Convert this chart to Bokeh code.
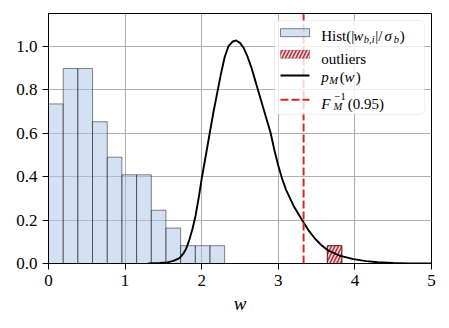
from bokeh.plotting import figure
from bokeh.models import (Range1d, FixedTicker, Span, BoxAnnotation, Label, Arrow)
from bokeh.embed import file_html
from bokeh.resources import INLINE

# ---------------- data ----------------
hist_edges = [0.0, 0.192, 0.383, 0.575, 0.767, 0.958, 1.150, 1.342,
              1.533, 1.725, 1.917, 2.108, 2.300]
hist_heights = [0.734, 0.897, 0.897, 0.652, 0.489, 0.408, 0.408,
                0.245, 0.163, 0.082, 0.082, 0.082]
outlier_left = [3.64]
outlier_right = [3.83]
outlier_heights = [0.082]

pdf_w = [1.30, 1.45, 1.55, 1.63, 1.71, 1.76, 1.80, 1.84, 1.88, 1.92, 1.96,
         2.00, 2.05, 2.10, 2.15, 2.20, 2.25, 2.30, 2.35, 2.40, 2.45, 2.50,
         2.55, 2.60, 2.65, 2.70, 2.75, 2.80, 2.85, 2.90, 2.95, 3.00, 3.05,
         3.10, 3.20, 3.31, 3.40, 3.48, 3.56, 3.65, 3.80, 3.98, 4.15, 4.30,
         4.50, 4.70, 5.00]
pdf_p = [0.000, 0.002, 0.005, 0.012, 0.025, 0.045, 0.070, 0.110, 0.160,
         0.220, 0.300, 0.390, 0.490, 0.590, 0.690, 0.780, 0.870, 0.950,
         1.000, 1.020, 1.026, 1.015, 0.990, 0.950, 0.900, 0.840, 0.780,
         0.720, 0.660, 0.600, 0.520, 0.450, 0.390, 0.340, 0.265, 0.200,
         0.150, 0.114, 0.085, 0.060, 0.036, 0.020, 0.011, 0.006, 0.002,
         0.000, 0.000]
quantile_95 = 3.33

x_ticks = [0, 1, 2, 3, 4, 5]
x_tick_labels = ["0", "1", "2", "3", "4", "5"]
y_ticks = [0.0, 0.2, 0.4, 0.6, 0.8, 1.0]
y_tick_labels = ["0.0", "0.2", "0.4", "0.6", "0.8", "1.0"]

# ---------------- styles ----------------
SERIF = "Liberation Serif"
BAR_FILL = "#a9c4e6"
RED = "#d62728"

p = figure(width=449, height=328, x_range=Range1d(0, 5), y_range=Range1d(0, 1.15),
           output_backend="svg", toolbar_location=None,
           min_border_left=48, min_border_right=18, min_border_top=13,
           min_border_bottom=65)
p.background_fill_color = "white"
p.border_fill_color = "white"
p.outline_line_color = "black"
p.outline_line_width = 1
p.outline_line_alpha = 1

for ax, ticks, labels in ((p.xaxis, x_ticks, x_tick_labels), (p.yaxis, y_ticks, y_tick_labels)):
    ax.ticker = FixedTicker(ticks=ticks)
    ax.major_label_overrides = {t: l for t, l in zip(ticks, labels)}
    ax.major_tick_out = 6
    ax.major_tick_in = 0
    ax.minor_tick_out = 0
    ax.minor_tick_in = 0
    ax.axis_line_color = "black"
    ax.major_tick_line_color = "black"
    ax.major_label_text_font = SERIF
    ax.major_label_text_font_size = "17px"
    ax.major_label_text_color = "black"
    ax.major_label_standoff = 5

p.xaxis.axis_label = "w"
p.xaxis.axis_label_text_font = SERIF
p.xaxis.axis_label_text_font_style = "italic"
p.xaxis.axis_label_text_font_size = "19px"
p.xaxis.axis_label_text_color = "black"
p.xaxis.axis_label_standoff = 4

p.grid.grid_line_color = "#b0b0b0"
p.grid.grid_line_width = 1.1

# histogram
p.quad(left=hist_edges[:-1], right=hist_edges[1:], bottom=0, top=hist_heights,
       fill_color=BAR_FILL, fill_alpha=0.5, line_color="#222222", line_alpha=0.55,
       line_width=1)
# outliers
p.quad(left=outlier_left, right=outlier_right, bottom=0, top=outlier_heights,
       fill_color=BAR_FILL, fill_alpha=0.5, hatch_pattern="/", hatch_color=RED,
       hatch_scale=7, hatch_weight=1.6, line_color="#4a1414", line_width=1)
# density
p.line(pdf_w, pdf_p, line_color="black", line_width=1.9)
# quantile
p.add_layout(Span(location=quantile_95, dimension="height", line_color=RED,
                  line_width=2, line_dash="8 3"))

# ---------------- legend (drawn by hand for sub/superscripts) ----------------
X0, XS, Y0, YS = 48.0, 76.6, 263.0, 217.39


def dx(px):
    return (px - X0) / XS


def dy(py):
    return (Y0 - py) / YS


p.add_layout(BoxAnnotation(left=dx(274), right=dx(424), top=dy(20), bottom=dy(114),
                           fill_color="white", fill_alpha=0.8, line_color="#cccccc",
                           line_width=1, border_radius=4))
p.add_layout(BoxAnnotation(left=dx(280), right=dx(309), top=dy(28.2), bottom=dy(36.2),
                           fill_color=BAR_FILL, fill_alpha=0.5, line_color="#222222",
                           line_alpha=0.55, line_width=1))
p.add_layout(BoxAnnotation(left=dx(280), right=dx(309), top=dy(49.8), bottom=dy(57.8),
                           fill_color=BAR_FILL, fill_alpha=0.5, hatch_pattern="/",
                           hatch_color=RED, hatch_scale=7, hatch_weight=1.6,
                           line_color="#4a1414", line_width=1))
p.add_layout(Arrow(end=None, x_start=dx(280), x_end=dx(309), y_start=dy(75), y_end=dy(75),
                   line_color="black", line_width=1.9))
p.add_layout(Arrow(end=None, x_start=dx(280), x_end=dx(309), y_start=dy(99.3), y_end=dy(99.3),
                   line_color=RED, line_width=2, line_dash="8 3"))

# (text, px_x, px_baseline, size, style)
legend_pieces = [
    ("Hist(|", 320.7, 36.0, "15px", "normal"),
    ("w", 352.7, 36.0, "15px", "italic"),
    ("b,i", 363.3, 39.3, "10.5px", "italic"),
    ("|/", 374.8, 36.0, "15px", "normal"),
    ("σ", 384.0, 36.0, "15px", "italic"),
    ("b", 393.3, 39.3, "10.5px", "italic"),
    (")", 399.3, 36.0, "15px", "normal"),
    ("outliers", 320.7, 58.5, "15px", "normal"),
    ("p", 320.7, 77.0, "15px", "italic"),
    ("M", 328.7, 80.0, "10.5px", "italic"),
    ("(", 339.3, 77.0, "15px", "normal"),
    ("w", 344.0, 77.0, "15px", "italic"),
    (")", 355.3, 77.0, "15px", "normal"),
    ("F", 320.7, 103.3, "15px", "italic"),
    ("−1", 334.0, 96.5, "10.5px", "normal"),
    ("M", 333.0, 106.0, "10.5px", "italic"),
    ("(0.95)", 347.3, 103.3, "15px", "normal"),
]
for txt, px, py, size, style in legend_pieces:
    p.add_layout(Label(x=dx(px), y=dy(py), text=txt, text_font=SERIF,
                       text_font_size=size, text_font_style=style,
                       text_baseline="alphabetic", text_align="left",
                       text_color="black"))

open("out.html", "w").write(file_html(p, INLINE))
